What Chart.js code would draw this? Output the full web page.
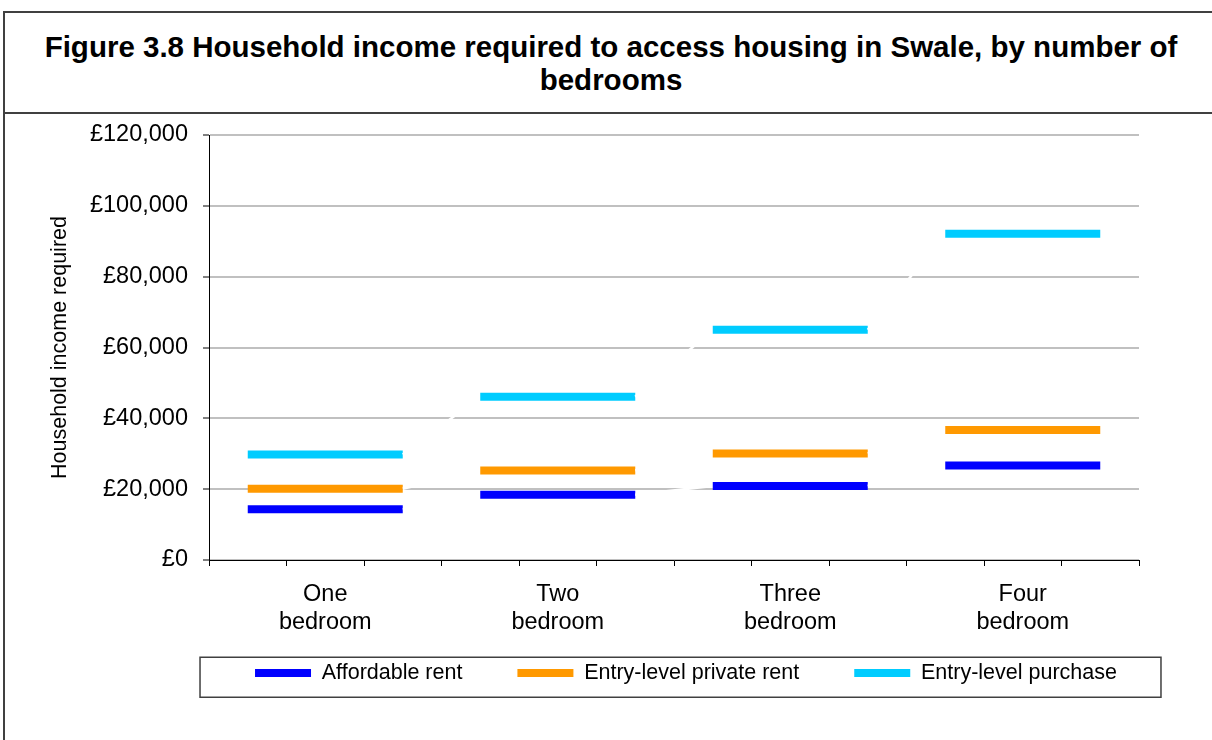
<!DOCTYPE html>
<html>
<head>
<meta charset="utf-8">
<script src="https://cdn.jsdelivr.net/npm/chart.js@4.4.1/dist/chart.umd.min.js"></script>
<style>
  html, body { margin: 0; padding: 0; width: 1212px; height: 740px; overflow: hidden; background: #fff; }
  #frame { position: absolute; left: 3px; top: 11px; width: 1300px; height: 800px; border-left: 2px solid #404040; border-top: 2px solid #404040; }
  #sep { position: absolute; left: 3px; top: 112px; width: 1300px; border-top: 2px solid #404040; }
  #title { position: absolute; left: 3px; top: 30px; width: 1216px; text-align: center; font-family: 'Liberation Sans', Arial, sans-serif; font-weight: bold; font-size: 29.5px; line-height: 33px; color: #000; }
  #c { position: absolute; left: 0; top: 0; }
</style>
</head>
<body>
<div id="frame"></div>
<div id="sep"></div>
<div id="title">Figure 3.8 Household income required to access housing in Swale, by number of<br>bedrooms</div>
<canvas id="c" width="1212" height="740"></canvas>
<script>
const categories = ['One bedroom', 'Two bedroom', 'Three bedroom', 'Four bedroom'];
const seriesNames = ['Affordable rent', 'Entry-level private rent', 'Entry-level purchase'];
const affordableRent = [14300, 18400, 20900, 26700];
const privateRent = [20100, 25300, 30100, 36700];
const entryPurchase = [29800, 46100, 65000, 92100];
const yTickValues = [0, 20000, 40000, 60000, 80000, 100000, 120000];
const colors = ['#0000FF', '#FF9900', '#00CCFF'];

// Each category spans three sub-positions; the middle one carries the label.
const labels = categories.flatMap(c => ['', c.split(' '), '']);
const expand = arr => arr.flatMap(v => [v, v, v]);

function makeDataset(name, values, color) {
  return {
    label: name,
    data: expand(values),
    borderColor: color,
    backgroundColor: color,
    borderWidth: 8,
    pointRadius: 0,
    pointHoverRadius: 0,
    fill: false,
    tension: 0,
    segment: {
      borderColor: ctx => (ctx.p1DataIndex % 3 === 0) ? '#FFFFFF' : color,
      borderWidth: ctx => (ctx.p1DataIndex % 3 === 0) ? 2.5 : 8
    }
  };
}

Chart.defaults.font.family = "'Liberation Sans', Arial, sans-serif";
Chart.defaults.color = '#000';

const legendShift = {
  id: 'legendShift',
  afterLayout(chart) {
    const lg = chart.legend;
    const dx = 101.5, dy = -27.75;
    lg.left += dx; lg.right += dx;
    lg.top += dy; lg.bottom += dy;
  }
};
const legendFrame = {
  id: 'legendFrame',
  afterDraw(chart) {
    const hb = chart.legend.legendHitBoxes;
    if (!hb || !hb.length) return;
    const first = hb[0], last = hb[hb.length - 1];
    const x0 = first.left - 55, x1 = last.left + last.width + 44;
    const y0 = first.top - 5, y1 = first.top + 35;
    const ctx = chart.ctx;
    ctx.save();
    ctx.strokeStyle = '#404040';
    ctx.lineWidth = 1.5;
    ctx.strokeRect(x0, y0, x1 - x0, y1 - y0);
    ctx.restore();
  }
};

new Chart(document.getElementById('c'), {
  type: 'line',
  data: {
    labels: labels,
    datasets: [
      makeDataset(seriesNames[0], affordableRent, colors[0]),
      makeDataset(seriesNames[1], privateRent, colors[1]),
      makeDataset(seriesNames[2], entryPurchase, colors[2])
    ]
  },
  options: {
    responsive: false,
    animation: false,
    events: [],
    layout: { padding: { top: 135, left: 30, right: 73, bottom: 18.5 } },
    scales: {
      x: {
        type: 'category',
        offset: true,
        grid: { display: true, offset: true, drawOnChartArea: false, drawTicks: true, tickLength: 6, color: '#000', lineWidth: 1 },
        border: { display: true, color: '#000', width: 1 },
        ticks: { autoSkip: false, maxRotation: 0, minRotation: 0, padding: 14, font: { size: 23.5, lineHeight: 1.2 }, color: '#000' },
        afterFit(scale) { scale.height = 75; }
      },
      y: {
        min: 0, max: 120000,
        afterBuildTicks(scale) { scale.ticks = yTickValues.map(v => ({ value: v })); },
        grid: { color: '#C0C0C0', lineWidth: 2, tickLength: 6, tickColor: '#000', tickWidth: 1 },
        border: { display: true, color: '#000', width: 1 },
        ticks: { padding: 15, font: { size: 23.5 }, color: '#000',
          callback: v => '£' + Number(v).toLocaleString('en-GB') },
        title: { display: true, text: 'Household income required', font: { size: 21.5, lineHeight: 1.2 }, color: '#000', padding: { top: 17, bottom: 0 } },
        afterFit(scale) { scale.width = 179; }
      }
    },
    plugins: {
      legend: {
        position: 'bottom',
        align: 'center',
        labels: {
          boxWidth: 56, boxHeight: 8, padding: 55, color: '#000',
          font: { size: 21.5 },
          generateLabels(chart) {
            return Chart.defaults.plugins.legend.labels.generateLabels(chart).map(l => ({
              ...l, lineWidth: 0, fillStyle: colors[l.datasetIndex], strokeStyle: colors[l.datasetIndex]
            }));
          }
        }
      },
      tooltip: { enabled: false },
      title: { display: false }
    }
  },
  plugins: [legendShift, legendFrame]
});
</script>
</body>
</html>
